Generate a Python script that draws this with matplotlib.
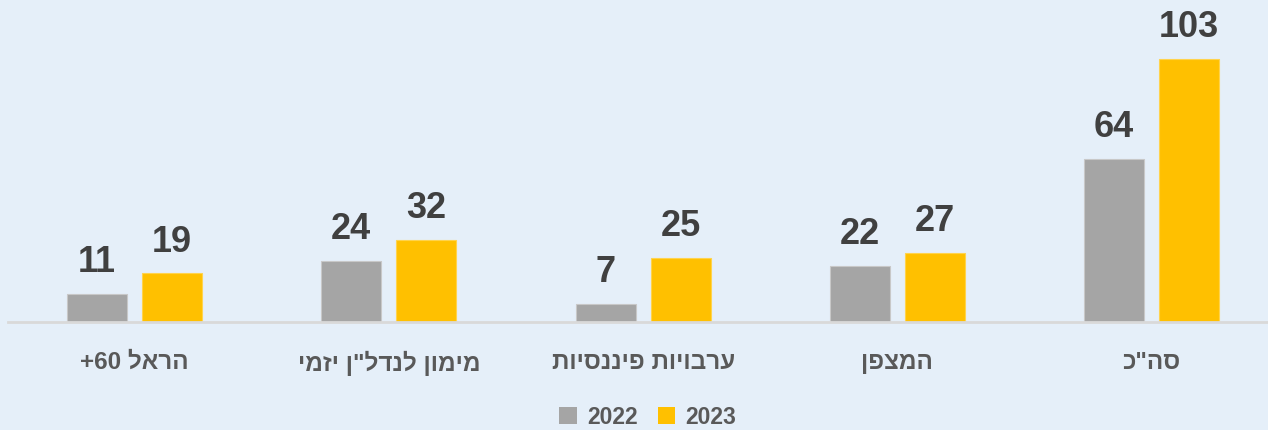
import re
import numpy as np
import matplotlib
matplotlib.use("Agg")
import matplotlib.pyplot as plt
from matplotlib.patches import Patch

# data, left to right as drawn
categories = ['הראל 60+', 'מימון לנדל"ן יזמי', 'ערבויות פיננסיות', 'המצפן', 'סה"כ']
values_2022 = [11, 24, 7, 22, 64]
values_2023 = [19, 32, 25, 27, 103]
series_names = ['2022', '2023']

BG = '#e5eff9'
GRAY = '#a5a5a5'
GOLD = '#ffc000'
LABEL_COLOR = '#404040'
TICK_COLOR = '#595959'
FONT = ['Liberation Sans', 'DejaVu Sans']


def rtl(s):
    """matplotlib has no bidi support: reverse Hebrew, keep digit runs."""
    r = s[::-1]
    return re.sub(r'\d+', lambda m: m.group(0)[::-1], r)


fig = plt.figure(figsize=(12.68, 4.30), dpi=100)
fig.patch.set_facecolor(BG)
ax = fig.add_axes([7.5 / 1268, 1 - 322 / 430, 1271.25 / 1268, 293.6 / 430])
ax.set_facecolor(BG)

x = np.arange(len(categories))
w = 0.236
off = 0.1475
b1 = ax.bar(x - off, values_2022, width=w, color=GRAY, edgecolor='#c8c8c8', linewidth=0.8)
b2 = ax.bar(x + off, values_2023, width=w, color=GOLD, edgecolor='#ffd34d', linewidth=0.8)

for bars in (b1, b2):
    for bar in bars:
        h = bar.get_height()
        ax.annotate(f'{h:g}', (bar.get_x() + bar.get_width() / 2, h),
                    xytext=(0, 10), textcoords='offset points',
                    ha='center', va='bottom', fontsize=26, fontweight='bold',
                    color=LABEL_COLOR, family=FONT, annotation_clip=False)

ax.set_xlim(-0.5, len(categories) - 0.5)
ax.set_ylim(0, 115)
ax.set_xticks(x)
ax.set_xticklabels([rtl(c) for c in categories], fontsize=17.5, fontweight='bold',
                   color=TICK_COLOR, family=FONT)
ax.tick_params(axis='x', length=0, pad=21)
ax.set_yticks([])
for s in ['top', 'right', 'left']:
    ax.spines[s].set_visible(False)
ax.spines['bottom'].set_color('#d9d9d9')
ax.spines['bottom'].set_linewidth(2)

handles = [Patch(facecolor=GRAY, label=series_names[0]),
           Patch(facecolor=GOLD, label=series_names[1])]
leg = fig.legend(handles=handles, loc='center', bbox_to_anchor=(0.511, 0.03), ncol=2,
                 frameon=False, handlelength=0.75, handleheight=0.75, handletextpad=0.45,
                 columnspacing=0.9, prop={'family': FONT, 'weight': 'bold', 'size': 16.5})
for t in leg.get_texts():
    t.set_color(TICK_COLOR)

fig.savefig('out.png', dpi=100, facecolor=BG)
